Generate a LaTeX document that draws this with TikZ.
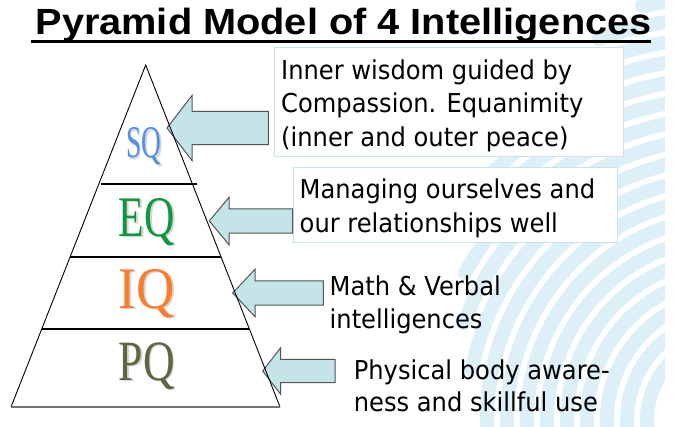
\documentclass[tikz,border=0pt]{standalone}
\usepackage{fontspec}
\usepackage{graphicx}
\setmainfont{DejaVu Sans}[FakeStretch=0.93]
\newfontfamily\titlefont{Liberation Sans}
\newfontfamily\letterfont{Liberation Serif}
\usetikzlibrary{calc}
\definecolor{bgblue}{RGB}{221,240,248}
\definecolor{arrowfill}{RGB}{197,228,231}
\definecolor{arrowline}{RGB}{80,86,86}
\definecolor{boxline}{RGB}{200,228,234}
\definecolor{sqcol}{RGB}{80,142,240}
\definecolor{eqcol}{RGB}{18,150,60}
\definecolor{iqcol}{RGB}{250,125,45}
\definecolor{pqcol}{RGB}{100,100,68}
\tikzset{
  bgarc/.style={draw=bgblue, line width=14pt, line cap=round},
  tbox/.style={draw=boxline, line width=1.1pt, fill=white, anchor=north west, inner sep=0},
  txt/.style={anchor=base west, inner sep=0, font=\fontsize{26}{33}\selectfont},
  lbl/.style={anchor=base, inner sep=0},
  lblshadow/.style={anchor=base, inner sep=0, text=black!16},
  arrowst/.style={draw=arrowline, fill=arrowfill, line width=1pt, line join=miter},
  pyrside/.style={draw=black, line width=0.9pt},
  pyrbase/.style={draw=black!55, line width=2pt},
  divider/.style={draw=black, line width=2.3pt},
  pics/blockarrow/.style n args={4}{code={
    \draw[arrowst] (0,0) -- (#1,-#2) -- (#1,-#3) -- (#4,-#3) -- (#4,#3) -- (#1,#3) -- (#1,#2) -- cycle;}}
}
\begin{document}
\begin{tikzpicture}[x=1pt,y=-1pt]
\fill[white] (0,0) rectangle (680,426);
\useasboundingbox (0,0) rectangle (680,426);
% decorative background ripples
\begin{scope}
\clip (0,0) rectangle (665,426);
\foreach \r/\a in {83/185,103/185,123/185,143/185,163/185,183/185,203/185,223/185,243/185,263/169,283/160,303/151,323/142,343/134,363/126,383/117,403/109,423/102}
  \draw[bgarc] (730,420) ++(-\a:\r) arc[start angle=-\a, end angle=-40, radius=\r];
\end{scope}
% title
\node[anchor=base west, inner sep=0] (title) at (35.3,34.3) {\resizebox{616pt}{26.4pt}{\titlefont\bfseries Pyramid Model of 4 Intelligences}};
\coordinate (ulA) at (31,41);
\coordinate (ulB) at (651,41);
\draw[line width=3pt] (ulA) -- (ulB);
% text boxes
\node[tbox, minimum width=349pt, minimum height=109.3pt] (box1) at (274.3,46.7) {};
\node[tbox, minimum width=324pt, minimum height=75pt] (box2) at (292.7,166.7) {};
\node[txt] (t1a) at (281,79) {Inner wisdom guided by};
\node[txt] (t1b) at (281,112.7) {Compassion. Equanimity};
\node[txt] (t1c) at (281,146) {(inner and outer peace)};
\node[txt] (t2a) at (299.5,198.3) {Managing ourselves and};
\node[txt] (t2b) at (299.5,232.7) {our relationships well};
\node[txt] (t3a) at (329.5,295) {Math \& Verbal};
\node[txt] (t3b) at (329.5,328.3) {intelligences};
\node[txt] (t4a) at (353.6,379) {Physical body aware-};
\node[txt] (t4b) at (353.6,411.7) {ness and skillful use};
% block arrows
\pic (arr1) at (167,128) {blockarrow={25}{32.5}{16.7}{101.3}};
\pic (arr2) at (209.3,221) {blockarrow={19.7}{23.7}{12.2}{83.4}};
\pic (arr3) at (232.7,293) {blockarrow={22.3}{23.7}{12.2}{90.6}};
\pic (arr4) at (262.7,371) {blockarrow={18}{23.3}{11.7}{72.3}};
% pyramid
\coordinate (apex) at (145.7,65);
\coordinate (bl) at (11,407);
\coordinate (br) at (280,407);
\coordinate (d1l) at (101,184);
\coordinate (d1r) at (197,184);
\draw[pyrside] (bl) -- (apex) -- (br);
\draw[pyrbase] (bl) -- (br);
\draw[divider] (d1l) -- (d1r);
\draw[divider] ($(apex)!0.5614!(bl)$) -- ($(apex)!0.5614!(br)$);
\draw[divider] ($(apex)!0.7719!(bl)$) -- ($(apex)!0.7719!(br)$);
% level labels
\node[lblshadow] (sqs) at (145.5,159.2) {\resizebox{35pt}{30pt}{\letterfont SQ}};
\node[lbl, text=sqcol] (sq) at (144,157.7) {\resizebox{35pt}{30pt}{\letterfont SQ}};
\node[lblshadow] (eqs) at (148.5,237.5) {\resizebox{56pt}{38pt}{\letterfont EQ}};
\node[lbl, text=eqcol] (eq) at (147,236) {\resizebox{56pt}{38pt}{\letterfont EQ}};
\node[lblshadow] (iqs) at (148.5,309.8) {\resizebox{56pt}{39pt}{\letterfont IQ}};
\node[lbl, text=iqcol] (iq) at (147,308.3) {\resizebox{56pt}{39pt}{\letterfont IQ}};
\node[lblshadow] (pqs) at (148.5,381.8) {\resizebox{56pt}{37.7pt}{\letterfont PQ}};
\node[lbl, text=pqcol] (pq) at (147,380.3) {\resizebox{56pt}{37.7pt}{\letterfont PQ}};
\end{tikzpicture}
\end{document}
